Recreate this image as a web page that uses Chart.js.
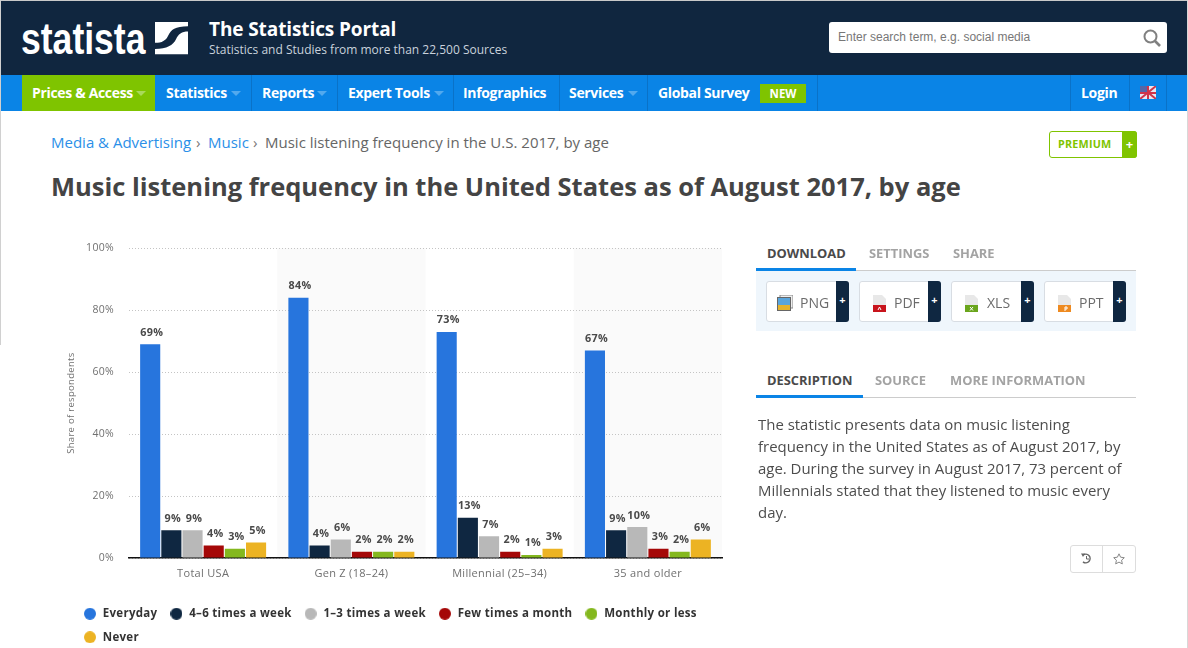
<!DOCTYPE html>
<html><head><meta charset="utf-8">
<script src="https://cdn.jsdelivr.net/npm/chart.js@4/dist/chart.umd.min.js"></script>
<style>
html,body{margin:0;padding:0;width:1188px;height:648px;overflow:hidden;background:#fff;font-family:"Open Sans",sans-serif}
.a{position:absolute;white-space:nowrap}
.nav{color:#fff;font-weight:700;font-size:14px;letter-spacing:-.33px;top:75px;line-height:36px;height:36px}
.sep{top:75px;width:1px;height:36px;background:#0a72c8}
.caret{top:91px;width:0;height:0;border-left:5px solid transparent;border-right:5px solid transparent;border-top:5px solid #52a9ee}
.tab{font-weight:700;font-size:12.9px;color:#a3a3a3;line-height:16px}
.tab.on{color:#4a4a4a}
.btn{top:281px;height:39px;background:#fff;border:1px solid #d8dde3;border-radius:3px;box-sizing:content-box}
.btn .p{position:absolute;right:-1px;top:-1px;bottom:-1px;width:13px;background:#0f2741;border-radius:0 3px 3px 0;color:#fff;font-weight:700;font-size:11px;text-align:center;line-height:38px}
.btn .t{position:absolute;top:0;line-height:41px;font-size:14px;color:#6b6b6b}
.doc{position:absolute;left:13px;top:13px}
.bc{top:132px;font-size:15px;line-height:21px}
</style></head><body>
<div class="a" style="left:0;top:0;width:1188px;height:1px;background:#c9c9c9"></div>
<div class="a" style="left:1px;top:1px;width:1186px;height:74px;background:#10263f"></div>
<div class="a" style="left:0;top:0;width:1px;height:345px;background:#d0d0d0"></div>
<div class="a" style="left:1187px;top:0;width:1px;height:648px;background:#d8d8d8"></div>
<div class="a" style="left:21px;top:13px;font-family:'Liberation Sans';font-weight:700;font-size:45px;line-height:52px;color:#fff;transform-origin:0 0;transform:scaleX(.79)">statista</div>
<svg class="a" style="left:155px;top:22px" width="33" height="33" viewBox="0 0 33 38" preserveAspectRatio="none"><path fill="#fff" d="M0 0H33V5C20 5 16 9 13 16 11 21 7 24 0 24ZM33 11V37H0V31C12 31 18 27 21 20 23 14 27 11 33 11Z"/></svg>
<div class="a" style="left:209px;top:16px;font-weight:700;font-size:19px;line-height:26px;color:#fff;letter-spacing:-.1px">The Statistics Portal</div>
<div class="a" style="left:209px;top:41px;font-size:12px;line-height:17px;color:#c9d2dc">Statistics and Studies from more than 22,500 Sources</div>
<div class="a" style="left:829px;top:22px;width:338px;height:31px;background:#fff;border-radius:3px"></div>
<div class="a" style="left:838px;top:25px;font-family:'Liberation Sans';font-size:12px;line-height:24px;color:#777">Enter search term, e.g. social media</div>
<svg class="a" style="left:1142px;top:28px" width="20" height="20" viewBox="0 0 20 20"><circle cx="8.5" cy="8.5" r="6" fill="none" stroke="#808080" stroke-width="2"/><path d="M13 13l5 5" stroke="#808080" stroke-width="2.6"/></svg>
<div class="a" style="left:1px;top:75px;width:1186px;height:36px;background:#0a84e6"></div>
<div class="a" style="left:22px;top:75px;width:133px;height:36px;background:#7fc400"></div>
<div class="a nav" style="left:32px">Prices &amp; Access</div><div class="a caret" style="left:136px;border-top-color:#a9d95a"></div>
<div class="a nav" style="left:166px">Statistics</div><div class="a caret" style="left:231px"></div>
<div class="a nav" style="left:262px">Reports</div><div class="a caret" style="left:317px"></div>
<div class="a nav" style="left:348px">Expert Tools</div><div class="a caret" style="left:434px"></div>
<div class="a nav" style="left:463px">Infographics</div>
<div class="a nav" style="left:569px">Services</div><div class="a caret" style="left:628px"></div>
<div class="a nav" style="left:658px">Global Survey</div>
<div class="a" style="left:760px;top:84px;width:46px;height:19px;background:#7fc400;color:#fff;font-weight:700;font-size:11.5px;line-height:20px;text-align:center">NEW</div>
<div class="a nav" style="left:1081px">Login</div>
<div class="a sep" style="left:251px"></div><div class="a sep" style="left:337px"></div><div class="a sep" style="left:453px"></div><div class="a sep" style="left:559px"></div><div class="a sep" style="left:647px"></div><div class="a sep" style="left:817px"></div><div class="a sep" style="left:1070px"></div><div class="a sep" style="left:1129px"></div><div class="a sep" style="left:1166px"></div>
<svg class="a" style="left:1140px;top:86px" width="16" height="13" viewBox="0 0 16 13"><rect width="16" height="13" fill="#e8e8f2"/><path d="M0 13L16 0M0 0L16 13" stroke="#d0344a" stroke-width="2"/><rect x="0" y="0" width="7" height="6" fill="#5566a8"/><path d="M8 0V13M0 7H16" stroke="#d0344a" stroke-width="2"/></svg>

<div class="a bc" style="left:51px;color:#2b8fe8">Media &amp; Advertising</div>
<div class="a bc" style="left:196px;color:#777">›</div>
<div class="a bc" style="left:208px;color:#2b8fe8">Music</div>
<div class="a bc" style="left:253px;color:#777">›</div>
<div class="a bc" style="left:265px;color:#666">Music listening frequency in the U.S. 2017, by age</div>
<div class="a" style="left:1049px;top:131px;width:86px;height:25px;border:1px solid #7fc400;border-radius:3px;background:#fff"></div>
<div class="a" style="left:1122px;top:131px;width:15px;height:27px;background:#7fc400;border-radius:0 3px 3px 0;color:#fff;font-weight:700;font-size:13px;line-height:26px;text-align:center">+</div>
<div class="a" style="left:1058px;top:135px;font-weight:700;font-size:10.8px;line-height:18px;color:#7fc400;letter-spacing:.2px">PREMIUM</div>
<div class="a" style="left:51px;top:167px;font-weight:700;font-size:25.5px;line-height:38px;color:#444">Music listening frequency in the United States as of August 2017, by age</div>

<canvas id="c" class="a" style="left:0;top:227px" width="760" height="426"></canvas>

<div class="a tab on" style="left:767px;top:245px">DOWNLOAD</div><div class="a tab" style="left:869px;top:245px">SETTINGS</div><div class="a tab" style="left:953px;top:245px">SHARE</div>
<div class="a" style="left:756px;top:270px;width:380px;height:1px;background:#ccc"></div>
<div class="a" style="left:756px;top:268px;width:100px;height:3px;background:#0a84e6"></div>
<div class="a" style="left:756px;top:271px;width:380px;height:60px;background:#eff6fc"></div>
<div class="a btn" style="left:766px;width:81px"><svg class="doc" style="left:10px" width="16" height="16"><rect x="3" y="0" width="13" height="13" fill="#eee" stroke="#888"/><rect x=".5" y="2.5" width="13" height="13" fill="#59a5dc" stroke="#666"/><rect x="1" y="10" width="12" height="5" fill="#e5b32c"/></svg><span class="t" style="left:33px">PNG</span><span class="p">+</span></div>
<div class="a btn" style="left:859px;width:80px"><svg class="doc" width="13" height="17"><path d="M0 0H9L13 4V17H0Z" fill="#e8e8e8"/><rect y="10" width="13" height="7" fill="#c8141c"/><path d="M5 15L6.5 12 8 15" fill="none" stroke="#fff"/></svg><span class="t" style="left:34px">PDF</span><span class="p">+</span></div>
<div class="a btn" style="left:951px;width:81px"><svg class="doc" width="13" height="17"><path d="M0 0H9L13 4V17H0Z" fill="#e8e8e8"/><rect y="10" width="13" height="7" fill="#6aa51c"/><path d="M5 12L8 15.5M8 12L5 15.5" stroke="#fff"/></svg><span class="t" style="left:35px">XLS</span><span class="p">+</span></div>
<div class="a btn" style="left:1044px;width:80px"><svg class="doc" width="13" height="17"><path d="M0 0H9L13 4V17H0Z" fill="#e8e8e8"/><rect y="10" width="13" height="7" fill="#ee8a20"/><path d="M7 16V12H9V14H7" fill="none" stroke="#fff"/></svg><span class="t" style="left:34px">PPT</span><span class="p">+</span></div>

<div class="a tab on" style="left:767px;top:372px">DESCRIPTION</div><div class="a tab" style="left:875px;top:372px">SOURCE</div><div class="a tab" style="left:950px;top:372px">MORE INFORMATION</div>
<div class="a" style="left:756px;top:397px;width:380px;height:1px;background:#ccc"></div>
<div class="a" style="left:756px;top:395px;width:107px;height:3px;background:#0a84e6"></div>
<div class="a" style="left:758px;top:413px;font-size:14.95px;line-height:22px;color:#4d4d4d">The statistic presents data on music listening<br>frequency in the United States as of August 2017, by<br>age. During the survey in August 2017, 73 percent of<br>Millennials stated that they listened to music every<br>day.</div>
<div class="a" style="left:1070px;top:545px;width:64px;height:26px;border:1px solid #ddd;border-radius:3px"></div>
<div class="a" style="left:1102px;top:545px;width:1px;height:28px;background:#ddd"></div>
<svg class="a" style="left:1080px;top:552px" width="13" height="13" viewBox="0 0 13 13"><path d="M3 3.2A4.3 4.3 0 1 1 3 9.8" fill="none" stroke="#666" stroke-width="1.5"/><path d="M1 1.5L5 1.5 3 5Z" fill="#666"/><path d="M6.5 4V7H9" fill="none" stroke="#666"/></svg>
<svg class="a" style="left:1113px;top:553px" width="12" height="12" viewBox="0 0 12 12"><path d="M6 .8L7.6 4.2 11.3 4.7 8.6 7.2 9.3 10.9 6 9.1 2.7 10.9 3.4 7.2.7 4.7 4.4 4.2Z" fill="none" stroke="#888"/></svg>

<script>
const categories = ["Total USA", "Gen Z (18–24)", "Millennial (25–34)", "35 and older"];
const everyday = [69, 84, 73, 67];
const fourToSix = [9, 4, 13, 9];
const oneToThree = [9, 6, 7, 10];
const fewMonth = [4, 2, 2, 3];
const monthly = [3, 2, 1, 2];
const never = [5, 2, 3, 6];
const seriesNames = ["Everyday", "4–6 times a week", "1–3 times a week", "Few times a month", "Monthly or less", "Never"];
const seriesColors = ["#2775dd", "#0f2741", "#b8b8b8", "#a50808", "#84b81e", "#ecb323"];
const seriesValues = [everyday, fourToSix, oneToThree, fewMonth, monthly, never];

const FONT = '"Open Sans", sans-serif';
function dot(color) {
  const c = document.createElement('canvas');
  c.width = c.height = 12;
  const g = c.getContext('2d');
  g.fillStyle = color; g.beginPath(); g.arc(6, 6, 6, 0, Math.PI * 2); g.fill();
  return c;
}
const spacing = {
  id: 'spacing',
  beforeLayout(chart) { chart.ctx.letterSpacing = '0.3px'; }
};
const bands = {
  id: 'bands',
  beforeDraw(chart) {
    const {ctx, chartArea: a, scales: {x}} = chart;
    const w = x.width / categories.length;
    ctx.save(); ctx.fillStyle = '#fafafa';
    categories.forEach((c, i) => {
      if (i % 2) ctx.fillRect(x.getPixelForTick(i) - w / 2, a.top, w, a.bottom - a.top);
    });
    ctx.restore();
  }
};
const valueLabels = {
  id: 'valueLabels',
  afterDatasetsDraw(chart) {
    const {ctx} = chart;
    ctx.save();
    ctx.font = '700 10.8px ' + FONT; ctx.fillStyle = '#4a4a4a';
    ctx.textAlign = 'center'; ctx.textBaseline = 'alphabetic';
    chart.data.datasets.forEach((d, i) => {
      chart.getDatasetMeta(i).data.forEach((el, j) => {
        ctx.fillText(d.data[j] + '%', el.x + 1.5, el.y - 8.5);
      });
    });
    ctx.restore();
  }
};
new Chart(document.getElementById('c'), {
  type: 'bar',
  data: {
    labels: categories,
    datasets: seriesNames.map((n, i) => ({label: n, data: seriesValues[i], backgroundColor: seriesColors[i], borderWidth: 0}))
  },
  plugins: [spacing, bands, valueLabels],
  options: {
    responsive: false, animation: false, devicePixelRatio: 1,
    categoryPercentage: 0.857, barPercentage: 0.95,
    layout: {autoPadding: false, padding: {left: 71, right: 38, top: 14, bottom: 0}},
    plugins: {
      tooltip: {enabled: false},
      legend: {
        position: 'bottom', align: 'start',
        labels: {
          usePointStyle: true, pointStyleWidth: 14, boxHeight: 8.5, padding: 12,
          color: '#333', font: {family: FONT, size: 11.5, weight: '700'},
          generateLabels(chart) {
            return Chart.defaults.plugins.legend.labels.generateLabels(chart).map((it, i) => {
              it.pointStyle = dot(seriesColors[i]);
              return it;
            });
          }
        }
      }
    },
    scales: {
      x: {
        afterFit: s => { s.height = 38; },
        grid: {display: false, drawTicks: false},
        border: {display: true, color: '#111', width: 1.5},
        ticks: {color: '#707070', padding: 9, font: {family: FONT, size: 11}, maxRotation: 0}
      },
      y: {
        min: 0, max: 100,
        afterFit: s => { s.width = 58; },
        grid: {color: '#c4c4c4', drawTicks: false, lineWidth: 1},
        border: {display: false, dash: [1, 2]},
        ticks: {stepSize: 20, color: '#707070', padding: 15, font: {family: FONT, size: 10.5}, callback: v => v + '%'},
        title: {display: true, text: 'Share of respondents', color: '#707070', padding: {top: -5, bottom: 0}, font: {family: FONT, size: 9.5}}
      }
    }
  }
});
</script>
</body></html>
